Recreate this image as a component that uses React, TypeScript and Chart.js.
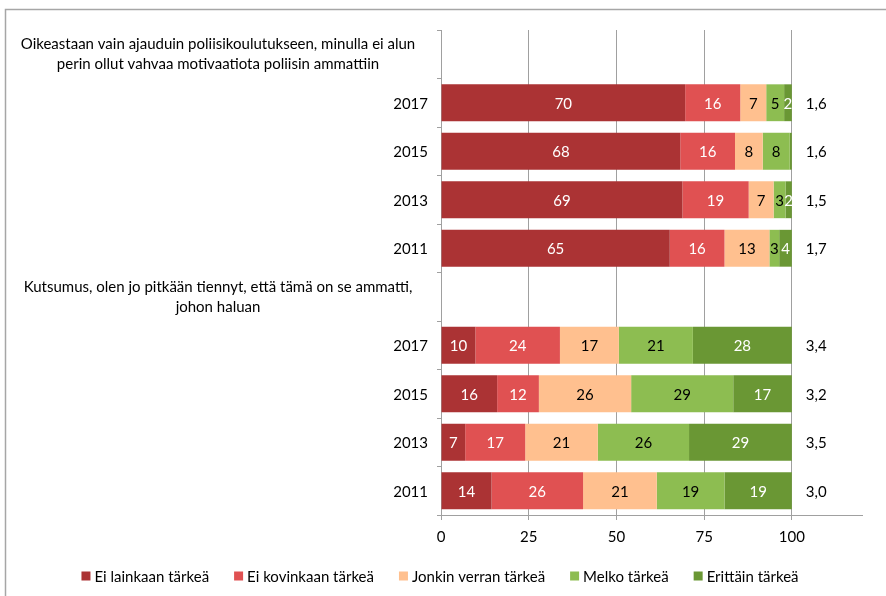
import React, { useEffect, useRef } from 'react';
import { Chart, registerables } from 'chart.js';
Chart.register(...registerables);

const categories: (string | string[])[] = [
  ['Oikeastaan vain ajauduin poliisikoulutukseen, minulla ei alun', 'perin ollut vahvaa motivaatiota poliisin ammattiin'],
  '2017', '2015', '2013', '2011',
  ['Kutsumus, olen jo pitkään tiennyt, että tämä on se ammatti,', 'johon haluan'],
  '2017', '2015', '2013', '2011',
];

const seriesNames = ['Ei lainkaan tärkeä', 'Ei kovinkaan tärkeä', 'Jonkin verran tärkeä', 'Melko tärkeä', 'Erittäin tärkeä'];
const eiLainkaan = [null, 69.6, 68.2, 68.8, 65.2, null, 9.8, 16.0, 6.9, 14.4];
const eiKovinkaan = [null, 15.7, 15.6, 18.9, 15.6, null, 24.1, 11.9, 17.1, 26.1];
const jonkinVerran = [null, 7.4, 7.9, 7.1, 12.8, null, 16.8, 26.3, 20.7, 21.0];
const melko = [null, 5.1, 7.7, 3.4, 2.8, null, 21.1, 29.1, 26.0, 19.3];
const erittain = [null, 2.2, 0.6, 1.8, 3.6, null, 28.2, 16.7, 29.3, 19.2];
const means = [null, 1.6, 1.6, 1.5, 1.7, null, 3.4, 3.2, 3.5, 3.0];
const xTicks = [0, 25, 50, 75, 100];

const colors = ['#AB3334', '#E05152', '#FFC08F', '#8DBD51', '#6A9734'];
const labelColors = ['#ffffff', '#ffffff', '#000000', '#000000', '#ffffff'];
const FONT = 'Lato, "Open Sans", sans-serif';
const FS = 15;

const customPlugin = {
  id: 'custom',
  beforeDraw(chart: any) {
    const { ctx, width, height } = chart;
    ctx.save();
    ctx.fillStyle = '#ffffff';
    ctx.fillRect(0, 0, width, height);
    ctx.strokeStyle = '#a6a6a6';
    ctx.lineWidth = 1.5;
    ctx.beginPath();
    ctx.moveTo(5.5, height);
    ctx.lineTo(5.5, 9.5);
    ctx.lineTo(width, 9.5);
    ctx.stroke();
    ctx.restore();
  },
  afterDatasetsDraw(chart: any) {
    const { ctx } = chart;
    const xs = chart.scales.x;
    const ys = chart.scales.y;
    ctx.save();
    ctx.font = `${FS}px ${FONT}`;
    ctx.textBaseline = 'middle';
    // values in bars
    chart.data.datasets.forEach((ds: any, di: number) => {
      const meta = chart.getDatasetMeta(di);
      meta.data.forEach((bar: any, i: number) => {
        const v = ds.data[i];
        if (v == null || v < 1) return;
        ctx.fillStyle = labelColors[di];
        ctx.textAlign = 'center';
        ctx.fillText(String(Math.round(v)), (bar.x + bar.base) / 2, bar.y + 1);
      });
    });
    // means
    ctx.fillStyle = '#000';
    ctx.textAlign = 'left';
    means.forEach((m, i) => {
      if (m == null) return;
      ctx.fillText(m.toFixed(1).replace('.', ','), xs.getPixelForValue(104), ys.getPixelForValue(i) + 1);
    });
    // y labels
    categories.forEach((c, i) => {
      const y = ys.getPixelForValue(i);
      if (Array.isArray(c)) {
        ctx.textAlign = 'center';
        const lh = 20;
        c.forEach((line, k) => {
          ctx.fillText(line, 218, y + (k - (c.length - 1) / 2) * lh);
        });
      } else {
        ctx.textAlign = 'right';
        ctx.fillText(c, 428, y + 1);
      }
    });
    // legend
    const box = 9, gapText = 4, gapItem = 25;
    const widths = seriesNames.map((n) => box + gapText + ctx.measureText(n).width);
    const total = widths.reduce((a, b) => a + b, 0) + gapItem * (seriesNames.length - 1);
    let x = 440 - total / 2;
    const ly = 577;
    seriesNames.forEach((n, i) => {
      ctx.fillStyle = colors[i];
      ctx.fillRect(x, ly - box / 2 - 1, box, box);
      ctx.fillStyle = '#000';
      ctx.textAlign = 'left';
      ctx.fillText(n, x + box + gapText, ly);
      x += widths[i] + gapItem;
    });
    ctx.restore();
  },
};

export default function App() {
  const ref = useRef<HTMLCanvasElement>(null);
  useEffect(() => {
    document.body.style.margin = '0';
    const datasets = [eiLainkaan, eiKovinkaan, jonkinVerran, melko, erittain].map((d, i) => ({
      label: seriesNames[i],
      data: d,
      backgroundColor: colors[i],
      borderWidth: 0,
      categoryPercentage: 1,
      barPercentage: 0.76,
    }));
    const chart = new Chart(ref.current!, {
      type: 'bar',
      data: { labels: categories.map((c) => (Array.isArray(c) ? c.join(' ') : c)), datasets },
      options: {
        indexAxis: 'y',
        animation: false,
        responsive: false,
        devicePixelRatio: 1,
        layout: { padding: { top: 30, right: 24, left: 0, bottom: 0 } },
        plugins: { legend: { display: false }, tooltip: { enabled: false } },
        scales: {
          x: {
            stacked: true,
            min: 0,
            max: 120,
            afterBuildTicks: (s: any) => {
              s.ticks = xTicks.map((v) => ({ value: v }));
            },
            afterFit: (s: any) => {
              s.height = 81;
            },
            ticks: { color: '#000', font: { family: FONT, size: FS }, padding: 8 },
            grid: { color: '#a0a0a0', tickLength: 5, lineWidth: 1 },
            border: { color: '#a0a0a0' },
          },
          y: {
            stacked: true,
            afterFit: (s: any) => {
              s.width = 441;
            },
            ticks: { display: false },
            grid: { offset: true, drawOnChartArea: false, tickLength: 4, color: '#a0a0a0' },
            border: { color: '#a0a0a0' },
          },
        },
      },
      plugins: [customPlugin],
    });
    return () => chart.destroy();
  }, []);
  return (
    <div style={{ position: 'absolute', left: 0, top: 0, width: 886, height: 596 }}>
      <canvas ref={ref} width={886} height={596} />
    </div>
  );
}
